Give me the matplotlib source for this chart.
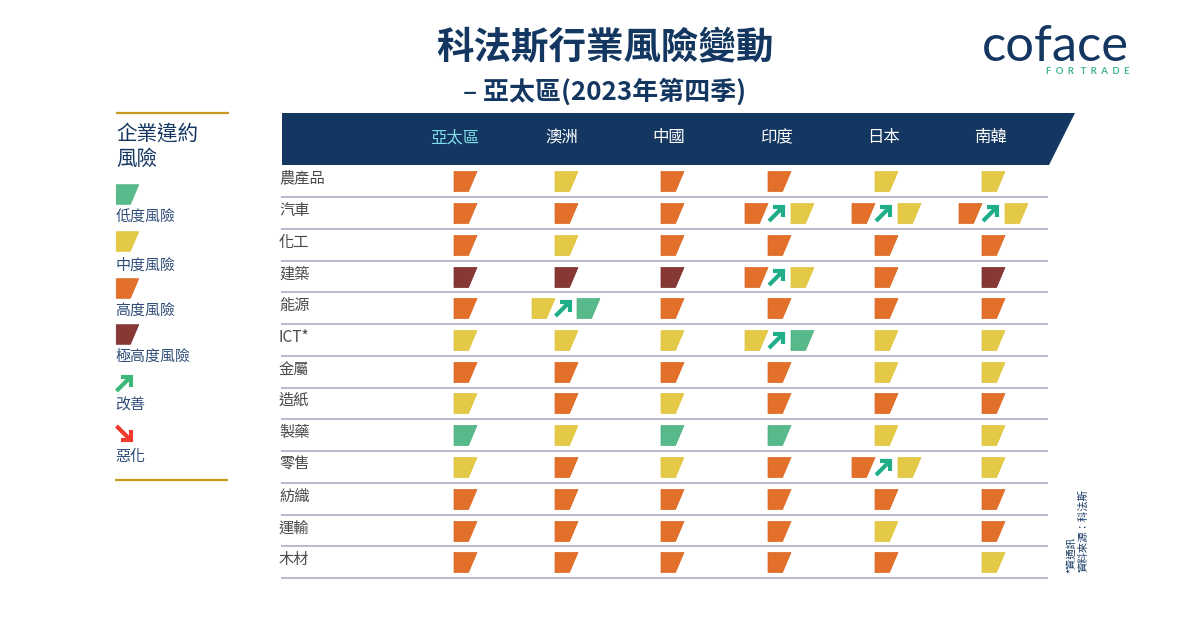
import matplotlib
matplotlib.use("Agg")
import matplotlib.pyplot as plt
from matplotlib.path import Path
from matplotlib.patches import Polygon

plt.rcParams['font.family'] = ['Noto Sans CJK TC', 'DejaVu Sans']

# ---------- data ----------
columns = ['亞太區', '澳洲', '中國', '印度', '日本', '南韓']
sectors = ['農產品', '汽車', '化工', '建築', '能源', 'ICT*', '金屬', '造紙', '製藥', '零售', '紡織', '運輸', '木材']
agri = ['H', 'M', 'H', 'H', 'M', 'M']
auto = ['H', 'H', 'H', 'H>M', 'H>M', 'H>M']
chem = ['H', 'M', 'H', 'H', 'H', 'H']
constr = ['V', 'V', 'V', 'H>M', 'H', 'V']
energy = ['H', 'M>L', 'H', 'H', 'H', 'H']
ict = ['M', 'M', 'M', 'M>L', 'M', 'M']
metals = ['H', 'H', 'H', 'H', 'M', 'M']
paper = ['M', 'H', 'M', 'H', 'H', 'H']
pharma = ['L', 'M', 'L', 'L', 'M', 'M']
retail = ['M', 'H', 'M', 'H', 'H>M', 'M']
textile = ['H', 'H', 'H', 'H', 'H', 'H']
transport = ['H', 'H', 'H', 'H', 'M', 'H']
wood = ['H', 'H', 'H', 'H', 'H', 'M']
grid = [agri, auto, chem, constr, energy, ict, metals, paper, pharma, retail, textile, transport, wood]

legend_levels = ['L', 'M', 'H', 'V']
legend_labels = ['低度風險', '中度風險', '高度風險', '極高度風險']
legend_arrows = ['改善', '惡化']

# ---------- style / layout ----------
NAVY = '#143761'
GOLD = '#C79A1E'
RULE = '#B6BBCE'
COLORS = {'L': '#58B98A', 'M': '#E3C945', 'H': '#E2702B', 'V': '#873835'}
EDGES = {'L': '#4BAF7F', 'M': '#E0C23A', 'H': '#D9641F', 'V': '#76282A'}
ARROW_UP = '#1FAE87'
ARROW_UP_LEG = '#3CB878'
ARROW_DOWN = '#F4392F'

col_x = [465, 565.5, 672, 779, 886, 993]
head_x = [455, 562, 669, 776, 883, 990]
row_y = [181, 213, 245, 277, 308, 340, 372, 403, 435, 467, 499, 531, 562]
rule_y = [197, 229, 261, 292, 324, 356, 388, 419, 451, 483, 515, 546, 578]

fig = plt.figure(figsize=(12, 6.27), dpi=100)
ax = fig.add_axes([0, 0, 1, 1])
ax.set_xlim(0, 1200)
ax.set_ylim(627, 0)
ax.axis('off')

TRAP = Path([(-1, 0.87), (1, 0.87), (0.26, -0.87), (-1, -0.87), (-1, 0.87)], closed=True)


def block(x, y, level, size=23):
    s = (size * 0.72) ** 2
    ax.scatter([x], [y], s=s, marker=TRAP, c=COLORS[level], edgecolors=EDGES[level],
               linewidths=0.5, zorder=3)


def arrow(x, y, color, up=True, r=6, lw=3.0):
    d = -1 if up else 1
    ax.plot([x - r - 1, x + r], [y - d * (r + 1), y + d * r], color=color, lw=lw,
            solid_capstyle='butt', zorder=3)
    ax.plot([x - 3, x + r + 1, x + r + 1], [y + d * (r + 1), y + d * (r + 1), y - d * 3],
            color=color, lw=lw, solid_joinstyle='miter', solid_capstyle='butt', zorder=3)


# ---------- titles ----------
ax.text(605, 48, '科法斯行業風險變動', ha='center', va='center', fontsize=27,
        fontweight='bold', color=NAVY)
ax.text(604.5, 92, '– 亞太區(2023年第四季)', ha='center', va='center', fontsize=18.7,
        fontweight='bold', color=NAVY)

# ---------- logo ----------
ax.text(1055, 47, 'coface', ha='center', va='center', fontsize=36.5, color=NAVY,
        family=['Lato', 'DejaVu Sans'])
ax.text(1088, 71.5, 'F  O  R   T  R  A  D  E', ha='center', va='center', fontsize=6.8, color='#3FB388',
        family=['Lato', 'DejaVu Sans'], fontweight='bold')

# ---------- header ----------
ax.add_patch(Polygon([(282, 113), (1075, 113), (1049, 165), (282, 165)], closed=True,
                     facecolor=NAVY, edgecolor='none', zorder=2))
for i, (name, x) in enumerate(zip(columns, head_x)):
    ax.text(x, 137.5, name, ha='center', va='center', fontsize=11.8, zorder=3,
            color='#7FDDE6' if i == 0 else 'white')

# ---------- table ----------
for y in rule_y:
    ax.plot([281, 1048], [y, y], color=RULE, lw=1.4, solid_capstyle='butt', zorder=1)
for name, y in zip(sectors, row_y):
    ax.text(279, y - 3, name, ha='left', va='center', fontsize=11, color='#4A4A4A')

for y, row in zip(row_y, grid):
    for x, cell in zip(col_x, row):
        if '>' in cell:
            a, b = cell.split('>')
            block(x - 23, y, a)
            arrow(x - 3, y + 1, ARROW_UP)
            block(x + 22.5, y, b)
        else:
            block(x, y, cell)

# ---------- legend ----------
ax.plot([116, 229], [112.5, 112.5], color=GOLD, lw=1.6, solid_capstyle='butt')
ax.plot([115, 228], [480, 480], color=GOLD, lw=1.6, solid_capstyle='butt')
ax.text(116, 133.5, '企業違約', ha='left', va='center', fontsize=14.8, color=NAVY)
ax.text(116, 158.5, '風險', ha='left', va='center', fontsize=14.8, color=NAVY)

for lev, lab, by, ty in zip(legend_levels, legend_labels, [194, 241, 288, 334], [218, 266, 311, 357]):
    block(126.5, by, lev, size=22.5)
    ax.text(115.5, ty, lab, ha='left', va='center', fontsize=10.8, color='#2F4D78')

arrow(123.5, 384, ARROW_UP_LEG)
ax.text(115.5, 405.5, legend_arrows[0], ha='left', va='center', fontsize=10.8, color='#2F4D78')
arrow(123.5, 433, ARROW_DOWN, up=False)
ax.text(115.5, 456.5, legend_arrows[1], ha='left', va='center', fontsize=10.8, color='#2F4D78')

# ---------- source ----------
ax.text(1071, 573, '*資通訊', rotation=90, ha='center', va='bottom', fontsize=7.5, color=NAVY)
ax.text(1083, 572, '資料來源：科法斯', rotation=90, ha='center', va='bottom', fontsize=7.5, color=NAVY)

fig.savefig('out.png', dpi=100)
